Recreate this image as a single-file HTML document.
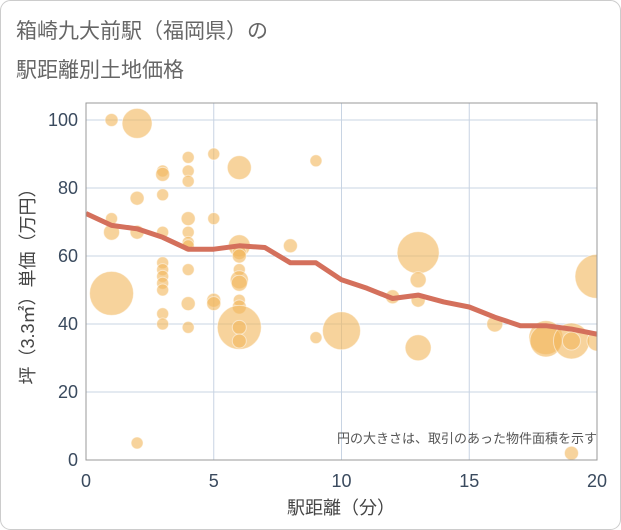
<!DOCTYPE html>
<html><head><meta charset="utf-8"><style>
body{margin:0;background:#fff;}
svg{display:block;font-family:"Liberation Sans","Noto Sans CJK JP",sans-serif;}
</style></head><body>
<svg width="621" height="530" viewBox="0 0 621 530">
<defs><clipPath id="pc"><rect x="86" y="103" width="511" height="357"/></clipPath></defs>
<rect x="0.5" y="0.5" width="620" height="529" rx="10" fill="#fff" stroke="#ccc"/>
<text x="16" y="38" font-size="21" fill="#666">箱崎九大前駅（福岡県）の</text>
<text x="16" y="77" font-size="21" fill="#666">駅距離別土地価格</text>
<g id="grid"></g>
<g id="bubbles" clip-path="url(#pc)"></g>
<g id="trend" clip-path="url(#pc)"></g>
<rect x="86" y="103" width="511" height="357" fill="none" stroke="#999"/>
<g id="axes"></g>
<text x="597" y="443" font-size="13" fill="#555" text-anchor="end">円の大きさは、取引のあった物件面積を示す</text>
<text x="341" y="514" font-size="18" fill="#444" text-anchor="middle">駅距離（分）</text>
<text transform="translate(34,282) rotate(-90)" font-size="18" fill="#444" text-anchor="middle">坪（3.3㎡）単価（万円）</text>
</svg>
<script>
const xTicks=[0,5,10,15,20];
const yTicks=[0,20,40,60,80,100];
const bubX=[1,2,3,3,4,4,4,5,6,9,2,3,1,1,2,3,4,4,4,4,5,6,6,6,8,3,3,3,3,3,4,6,6,6,1,4,5,5,6,6,3,3,4,6,6,6,9,10,2,13,13,12,13,13,16,18,18,19,19,20,20,19];
const bubY=[100,99,85,84,89,85,82,90,86,88,77,78,71,67,67,67,71,67,64,63,71,63,61,60,63,58,56,54,52,50,56,56,53,52,49,46,47,46,47,45,43,40,39,39,39,35,36,38,5,61,53,48,47,33,40,36,35,35,35,54,35,2];
const bubR=[6.5,15,6,7,6,6,6,6,12,6,7,6,6,8,7,6,7,6,6,6,6,11,7,7,7,6,6,6,6,6,6,6,9,8,22,7,7,7,6,7,6,6,6,22,7,7,6,19,6,21,8,7,7,13,8,17,16,18,9,22,10,7];
const lineX=[0,1,2,3,4,5,6,7,8,9,10,11,12,13,14,15,16,17,18,19,20];
const lineY=[72.5,69,68,65.5,62,62,63,62.5,58,58,53,50.5,47.5,48.5,46.5,45,42,39.5,39.5,38.5,37];
const NS="http://www.w3.org/2000/svg";
const X=v=>86+v*(511/20);
const Y=v=>460-v*3.4;
function mk(t,a,p){const e=document.createElementNS(NS,t);for(const k in a)e.setAttribute(k,a[k]);p.appendChild(e);return e;}
const grid=document.getElementById('grid'),axes=document.getElementById('axes');
xTicks.forEach(t=>{
 const l=mk('line',{x1:X(t),x2:X(t),y1:103,y2:460,stroke:'#c8d4e3'},grid);
 
 
 const tx=mk('text',{x:X(t),y:487,'font-size':18,fill:'#3a4a5e','text-anchor':'middle'},axes);
 tx.textContent=t;
 
 
});
yTicks.forEach(t=>{
 const l=mk('line',{x1:86,x2:597,y1:Y(t),y2:Y(t),stroke:'#c8d4e3'},grid);
 
 
 const tx=mk('text',{x:78,y:Y(t)+6,'font-size':18,fill:'#3a4a5e','text-anchor':'end'},axes);
 tx.textContent=t;
 
 
});
const bg=document.getElementById('bubbles');
bubX.forEach((x,i)=>{
 const c=mk('circle',{cx:X(x),cy:Y(bubY[i]),r:bubR[i],fill:'#f2b860','fill-opacity':0.62,stroke:'#fff','stroke-opacity':0.5,'stroke-width':1},bg);
 
 
});
const pts=lineX.map((x,i)=>X(x)+','+Y(lineY[i])).join(' ');
const pl=mk('polyline',{points:pts,fill:'none',stroke:'#d4705c','stroke-width':5,'stroke-linejoin':'round'},document.getElementById('trend'));


</script>
</body></html>
